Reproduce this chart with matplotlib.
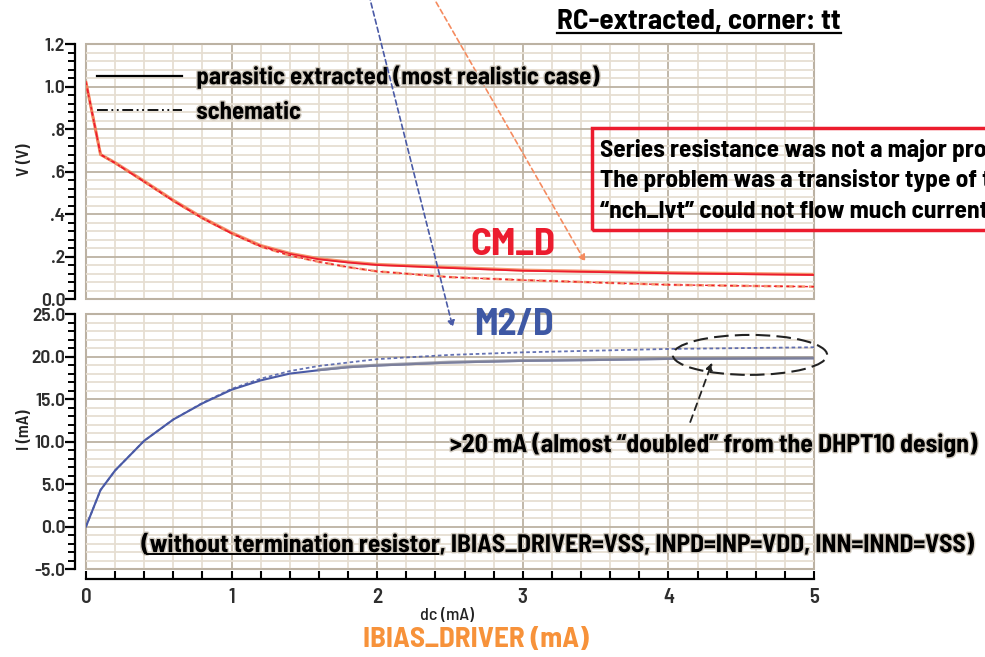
import matplotlib
matplotlib.use("Agg")
import matplotlib.pyplot as plt
import matplotlib.patheffects as pe
from matplotlib.lines import Line2D
from matplotlib.patches import Rectangle, Ellipse
from matplotlib.ticker import MultipleLocator

# sweep of IBIAS_DRIVER (mA)
dc = [0, 0.1, 0.2, 0.4, 0.6, 0.8, 1.0, 1.2, 1.4, 1.6, 1.8, 2.0, 2.5, 3.0, 3.5, 4.0, 4.5, 5.0]

# CM_D node voltage (V)
cm_d_ext = [1.02, 0.68, 0.64, 0.552, 0.462, 0.38, 0.309, 0.249, 0.212, 0.187, 0.172, 0.160,
            0.146, 0.133, 0.127, 0.121, 0.117, 0.113]
cm_d_ext_b = [1.02, 0.68, 0.642, 0.555, 0.465, 0.383, 0.312, 0.252, 0.215, 0.190, 0.175, 0.163,
              0.149, 0.136, 0.130, 0.124, 0.120, 0.116]
cm_d_sch = [1.02, 0.68, 0.64, 0.552, 0.462, 0.38, 0.309, 0.247, 0.205, 0.175, 0.150, 0.130,
            0.103, 0.089, 0.078, 0.067, 0.062, 0.058]

# M2/D drain current (mA)
m2_ext = [0.0, 4.3, 6.6, 10.1, 12.6, 14.5, 16.1, 17.2, 18.0, 18.4, 18.75, 18.95,
          19.3, 19.5, 19.6, 19.73, 19.77, 19.8]
m2_sch = [0.0, 4.3, 6.6, 10.1, 12.6, 14.55, 16.2, 17.4, 18.3, 18.9, 19.3, 19.7,
          20.2, 20.5, 20.7, 20.9, 21.0, 21.1]
dc_tail = [1.6, 1.8, 2.0, 2.5, 3.0, 3.5, 4.0, 4.5, 5.0]
m2_ext_b = [18.45, 18.8, 19.0, 19.35, 19.55, 19.65, 19.78, 19.82, 19.85]

v_ticks = [0.0, 0.2, 0.4, 0.6, 0.8, 1.0, 1.2]
v_tick_labels = ["0.0", ".2", ".4", ".6", ".8", "1.0", "1.2"]
i_ticks = [-5, 0, 5, 10, 15, 20, 25]
i_tick_labels = ["-5.0", "0.0", "5.0", "10.0", "15.0", "20.0", "25.0"]
x_ticks = [0, 1, 2, 3, 4, 5]

FONT = ["Barlow Semi Condensed", "DejaVu Sans"]
GRID_MAJOR = "#bcb2a3"
GRID_MINOR = "#e6ded2"
RED = "#ec1c2e"
ORANGE = "#f58b5f"
BLUE = "#4a5aa6"
GRAY = "#8c8c98"

halo = [pe.withStroke(linewidth=2.0, foreground="#d2cbc0")]

fig = plt.figure(figsize=(9.85, 6.57), dpi=100)
ax1 = fig.add_axes([0.0873, 0.5449, 0.7391, 0.388])
ax2 = fig.add_axes([0.0873, 0.1339, 0.7391, 0.388])


def style_axes(ax, ymin, ymax, yminor, ticks, labels):
    ax.set_xlim(0, 5)
    ax.set_ylim(ymin, ymax)
    ax.xaxis.set_major_locator(MultipleLocator(1))
    ax.xaxis.set_minor_locator(MultipleLocator(0.2))
    ax.set_yticks(ticks, labels)
    ax.yaxis.set_minor_locator(MultipleLocator(yminor))
    ax.grid(which="minor", color=GRID_MINOR, lw=1.3)
    ax.grid(which="major", color=GRID_MAJOR, lw=1.3)
    ax.set_axisbelow(True)
    for side in ["top", "right", "bottom"]:
        ax.spines[side].set_visible(False)
    ax.spines["left"].set_position(("outward", 8))
    ax.spines["left"].set_linewidth(1.6)
    ax.spines["left"].set_bounds(ymin, ymax)
    ax.tick_params(axis="y", which="major", direction="out", length=7, width=1.6,
                   labelsize=14, labelcolor="#2e2e2e", pad=0)
    ax.tick_params(axis="y", which="minor", direction="out", length=5, width=1.4)
    for lab in ax.get_yticklabels():
        lab.set_fontfamily(FONT)
        lab.set_fontweight(600)
    ax.add_patch(Rectangle((0, 0), 1, 1, transform=ax.transAxes, fill=False,
                           ec=GRID_MAJOR, lw=1.5, clip_on=False, zorder=0.5))


style_axes(ax1, 0, 1.2, 0.04, v_ticks, v_tick_labels)
style_axes(ax2, -5, 25, 1, i_ticks, i_tick_labels)

ax1.tick_params(axis="x", which="both", length=0, labelbottom=False)

ax2.spines["bottom"].set_visible(True)
ax2.spines["bottom"].set_position(("outward", 7))
ax2.spines["bottom"].set_linewidth(1.6)
ax2.set_xticks(x_ticks, [str(t) for t in x_ticks])
ax2.tick_params(axis="x", which="both", direction="in", length=6, width=1.5,
                labelsize=15, labelcolor="#2e2e2e", pad=7)
for lab in ax2.get_xticklabels():
    lab.set_fontfamily(FONT)
    lab.set_fontweight(600)

# CM_D voltage traces
ax1.plot(dc, cm_d_ext_b, color=ORANGE, lw=2.2, alpha=0.9)
ax1.plot(dc, cm_d_ext, color=RED, lw=1.3)
ax1.plot(dc, cm_d_sch, color=ORANGE, lw=1.8, ls=(0, (3, 1.5)), alpha=0.9)
ax1.plot(dc, cm_d_sch, color=RED, lw=1.0, ls=(0, (2, 2.5)))

# M2/D current traces
ax2.plot(dc, m2_sch, color=BLUE, lw=1.3, ls=(0, (2, 1.5)), alpha=0.85)
ax2.plot(dc, m2_ext, color=BLUE, lw=1.5)
ax2.plot(dc_tail, m2_ext_b, color=GRAY, lw=2.2, alpha=0.75)

ax1.set_ylabel("V (V)", fontsize=12.5, family=FONT, weight=600, color="#222222")
ax2.set_ylabel("I (mA)", fontsize=12.5, family=FONT, weight=600, color="#222222")
ax1.yaxis.set_label_coords(-0.074, 0.545)
ax2.yaxis.set_label_coords(-0.074, 0.545)

# legend with black proxy lines
handles = [Line2D([], [], color="black", lw=1.6),
           Line2D([], [], color="black", lw=1.3, ls=(0, (6, 2, 1, 2, 1, 2)))]
leg = ax1.legend(handles, ["parasitic extracted (most realistic case)", "schematic"],
                 loc="upper left", bbox_to_anchor=(-0.008, 0.985), frameon=False,
                 handlelength=3.4, handletextpad=0.6, labelspacing=0.5,
                 borderaxespad=0.3, prop={"family": FONT, "weight": 700, "size": 17.8})
for t in leg.get_texts():
    t.set_path_effects(halo)

ax1.text(2.93, 0.254, "CM_D", color=RED, fontsize=28, weight=700, family=FONT,
         ha="center", va="center")
ax2.text(2.94, 23.7, "M2/D", color="#3e58a4", fontsize=27, weight=700, family=FONT,
         ha="center", va="center", clip_on=False)

# pointers from above the figure
ax1.annotate("", xy=(3.43, 0.174), xycoords="data", xytext=(432, 662),
             textcoords="figure pixels",
             arrowprops=dict(arrowstyle="-|>", color=ORANGE, lw=1.2, ls=(0, (3, 2)),
                             mutation_scale=10, shrinkA=0, shrinkB=0),
             annotation_clip=False)
ax2.annotate("", xy=(2.52, 23.4), xycoords="data", xytext=(369, 662),
             textcoords="figure pixels",
             arrowprops=dict(arrowstyle="-|>", color=BLUE, lw=1.2, ls=(0, (3, 2)),
                             mutation_scale=10, shrinkA=0, shrinkB=0),
             annotation_clip=False)

# saturation region highlight
ax2.add_patch(Ellipse((4.56, 20.2), 1.06, 4.7, fill=False, ec="#222222", lw=1.5,
                      ls=(0, (7, 3)), clip_on=False, zorder=5))
ax2.annotate("", xy=(4.30, 19.3), xytext=(4.15, 12.3),
             arrowprops=dict(arrowstyle="-|>", color="#222222", lw=1.3, ls=(0, (4, 3)),
                             mutation_scale=10, shrinkA=0, shrinkB=0),
             annotation_clip=False)

ax2.text(2.5, 9.7, ">20 mA (almost \u201cdoubled\u201d from the DHPT10 design)",
         fontsize=18.5, weight=700, family=FONT, ha="left", va="center",
         path_effects=halo, clip_on=False)

note_a = ax2.text(0.38, -2.3, "(without termination resistor", fontsize=18.3, weight=700,
                  family=FONT, ha="left", va="center", path_effects=halo, clip_on=False)

fig.text(699 / 985, 1 - 22 / 657, "RC-extracted, corner: tt", fontsize=21, weight=700,
         family=FONT, ha="center", va="center")

# problem statement box, running off the right edge of the figure
fig.patches.append(Rectangle((592 / 985, 1 - 230 / 657), 0.45, 102 / 657,
                             transform=fig.transFigure, fill=False, ec=RED, lw=2.5))
box_lines = ["Series resistance was not a major problem.",
             "The problem was a transistor type of the driver:",
             "\u201cnch_lvt\u201d could not flow much current."]
for k, line in enumerate(box_lines):
    fig.text(600 / 985, 1 - (150 + 31 * k) / 657, line, fontsize=18.3, weight=700,
             family=FONT, ha="left", va="center")

fig.text(447 / 985, 1 - 615 / 657, "dc (mA)", fontsize=13, family=FONT, weight=500,
         ha="center", va="center", color="#222222")
fig.text(476 / 985, 1 - 640 / 657, "IBIAS_DRIVER (mA)", fontsize=21, weight=700,
         family=FONT, ha="center", va="center", color="#f7923a")

# underline title and the first part of the note, then append the rest
fig.canvas.draw()
renderer = fig.canvas.get_renderer()
title = [t for t in fig.texts if t.get_text().startswith("RC-")][0]
bb = title.get_window_extent(renderer)
fig.add_artist(Line2D([bb.x0 / 985, bb.x1 / 985], [(bb.y0 + 2) / 657] * 2,
                      transform=fig.transFigure, color="black", lw=1.6))
bb = note_a.get_window_extent(renderer)
fig.add_artist(Line2D([(bb.x0 + 6) / 985, bb.x1 / 985], [(bb.y0 + 3) / 657] * 2,
                      transform=fig.transFigure, color="black", lw=1.4))
fig.text(bb.x1 / 985, (bb.y0 + bb.y1) / 2 / 657,
         ", IBIAS_DRIVER=VSS, INPD=INP=VDD, INN=INND=VSS)", fontsize=18.3, weight=700,
         family=FONT, ha="left", va="center", path_effects=halo)

fig.savefig("out.png", dpi=100)
